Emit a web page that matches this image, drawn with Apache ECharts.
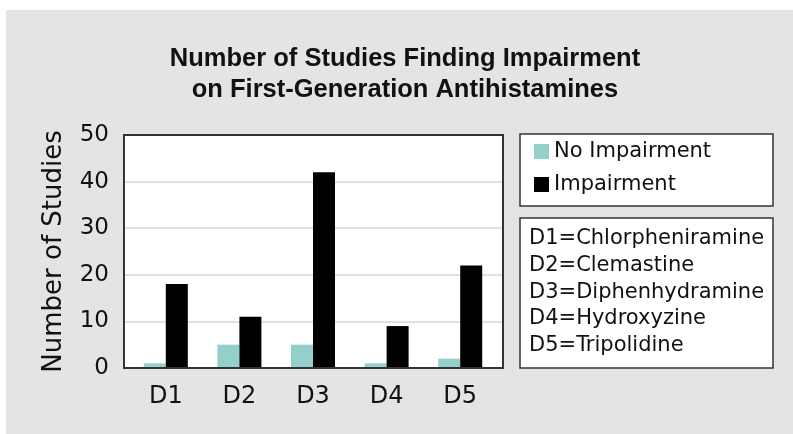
<!DOCTYPE html>
<html>
<head>
<meta charset="utf-8">
<script src="https://cdn.jsdelivr.net/npm/echarts@6/dist/echarts.min.js"></script>
<style>
html,body{margin:0;padding:0;background:#fff;}
#main{width:793px;height:434px;}
</style>
</head>
<body>
<div id="main"></div>
<script>
var titleText = 'Number of Studies Finding Impairment\non First-Generation Antihistamines';
var categories = ['D1', 'D2', 'D3', 'D4', 'D5'];
var drugNames = ['Chlorpheniramine', 'Clemastine', 'Diphenhydramine', 'Hydroxyzine', 'Tripolidine'];
var seriesNames = ['No Impairment', 'Impairment'];
var noImpairment = [1, 5, 5, 1, 2];
var impairment = [18, 11, 42, 9, 22];
var yAxisName = 'Number of Studies';

var chart = echarts.init(document.getElementById('main'));
var keyText = categories.map(function (c, i) { return c + '=' + drugNames[i]; }).join('\n');
var font = 'DejaVu Sans, sans-serif';

chart.setOption({
  animation: false,
  backgroundColor: '#e4e4e4',
  title: {
    text: titleText,
    left: 400,
    textAlign: 'center',
    top: 38,
    textStyle: {
      fontFamily: 'Liberation Sans, Arial, sans-serif',
      fontWeight: 'bold',
      fontSize: 25.5,
      lineHeight: 31,
      color: '#111'
    }
  },
  graphic: [
    { type: 'rect', shape: { x: 0, y: 0, width: 793, height: 10 }, style: { fill: '#ffffff' }, z: 0 },
    { type: 'rect', shape: { x: 0, y: 0, width: 6, height: 434 }, style: { fill: '#ffffff' }, z: 0 },
    { type: 'rect', shape: { x: 124, y: 135, width: 379, height: 233 }, style: { fill: 'none', stroke: '#333', lineWidth: 2 }, z: 50 },
    { type: 'rect', shape: { x: 520, y: 134, width: 253, height: 72 }, style: { fill: '#ffffff', stroke: '#333', lineWidth: 1.5 }, z: 1 },
    { type: 'rect', shape: { x: 520, y: 218, width: 253, height: 150 }, style: { fill: '#ffffff', stroke: '#333', lineWidth: 1.5 }, z: 1 },
    { type: 'text', x: 529, y: 225.5, z: 2,
      style: { text: keyText, fontFamily: font, fontSize: 21, lineHeight: 26.7, fill: '#111', textVerticalAlign: 'top' } }
  ],
  legend: {
    data: seriesNames,
    orient: 'vertical',
    left: 534,
    top: 141,
    padding: 0,
    itemWidth: 15,
    itemHeight: 15,
    itemGap: 12,
    icon: 'rect',
    textStyle: { fontFamily: font, fontSize: 21, lineHeight: 21, color: '#111' },
    z: 5
  },
  grid: [
    { left: 124, top: 135, right: 290, bottom: 66, show: true, backgroundColor: '#ffffff', borderWidth: 0 },
    { left: 129, top: 135, right: 296, bottom: 66 }
  ],
  xAxis: [
    { type: 'value', gridIndex: 0, show: false, min: 0, max: 1 },
    {
      type: 'category',
      gridIndex: 1,
      data: categories,
      axisTick: { show: false },
      axisLine: { show: false },
      axisLabel: { fontFamily: font, fontSize: 24, color: '#111', margin: 17 }
    }
  ],
  yAxis: [
    {
      type: 'value',
      gridIndex: 0,
      min: 0, max: 50, interval: 10,
      name: yAxisName,
      nameLocation: 'middle',
      nameGap: 57,
      nameTextStyle: { fontFamily: font, fontSize: 26, color: '#111' },
      axisLine: { show: false },
      axisTick: { show: false },
      axisLabel: { fontFamily: font, fontSize: 23, color: '#111', margin: 15 },
      splitLine: { lineStyle: { color: '#d6d6d6', width: 1.5 } }
    },
    { type: 'value', gridIndex: 1, min: 0, max: 50, interval: 10, show: false, splitLine: { show: false } }
  ],
  series: [
    { name: seriesNames[0], type: 'bar', xAxisIndex: 1, yAxisIndex: 1, data: noImpairment, barWidth: 22, barGap: '0%', itemStyle: { color: '#93cfcb' } },
    { name: seriesNames[1], type: 'bar', xAxisIndex: 1, yAxisIndex: 1, data: impairment, barWidth: 22, barGap: '0%', itemStyle: { color: '#000000' } }
  ]
});
</script>
</body>
</html>
